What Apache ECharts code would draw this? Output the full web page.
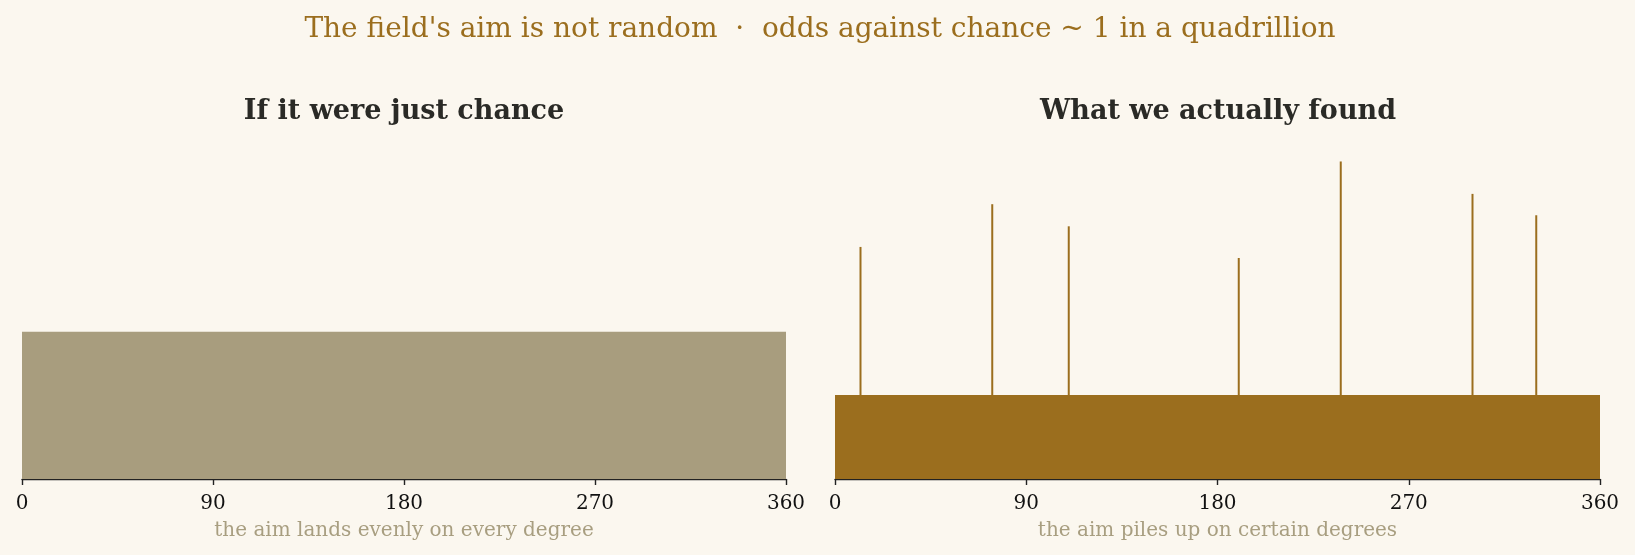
<!DOCTYPE html>
<html>
<head>
<meta charset="utf-8">
<script src="https://cdn.jsdelivr.net/npm/echarts@6/dist/echarts.min.js"></script>
<style>
  html, body { margin: 0; padding: 0; background: #fbf7ef; }
  #chart { width: 1635px; height: 555px; }
</style>
</head>
<body>
<div id="chart"></div>
<script>
// degree ticks on both panels
var degreeTicks = [0, 90, 180, 270, 360];
// left panel: uniform share per degree (relative units)
var chanceLevel = 1.0;
// right panel: background level and spikes at particular degrees
var foundBase = 0.57;
var spikeDegrees = [12, 74, 110, 190, 238, 300, 330];
var spikeHeights = [1.575, 1.865, 1.715, 1.50, 2.155, 1.935, 1.79];

var yMax = 2.26;
var serif = 'DejaVu Serif';

var chart = echarts.init(document.getElementById('chart'));

function xAxisFor(idx, label) {
    return {
        gridIndex: idx,
        type: 'value',
        min: degreeTicks[0],
        max: degreeTicks[degreeTicks.length - 1],
        interval: 90,
        name: label,
        nameLocation: 'middle',
        nameGap: 42,
        nameTextStyle: { color: '#a89e80', fontFamily: serif, fontSize: 20 },
        axisLine: { show: true, lineStyle: { color: '#222', width: 1.4 } },
        axisTick: { show: true, length: 6, lineStyle: { color: '#222', width: 1.4 } },
        axisLabel: { color: '#111', fontFamily: serif, fontSize: 20, margin: 15 },
        splitLine: { show: false }
    };
}

function yAxisFor(idx) {
    return {
        gridIndex: idx, type: 'value', min: 0, max: yMax, show: false,
        splitLine: { show: false }
    };
}

// one flat block spanning [x0, x1] up to value
function blockItem(params, api) {
    var p0 = api.coord([api.value(0), 0]);
    var p1 = api.coord([api.value(1), api.value(2)]);
    return {
        type: 'rect',
        shape: { x: p0[0], y: p1[1], width: p1[0] - p0[0], height: p0[1] - p1[1] },
        style: { fill: api.visual('color') }
    };
}

// thin spike rising from the base
function spikeItem(params, api) {
    var b = api.coord([api.value(0), foundBase]);
    var t = api.coord([api.value(0), api.value(1)]);
    return {
        type: 'rect',
        shape: { x: b[0] - 1, y: t[1], width: 2, height: b[1] - t[1] },
        style: { fill: api.visual('color') }
    };
}

var option = {
    backgroundColor: '#fbf7ef',
    animation: false,
    title: [{
        text: "The field's aim is not random  \u00b7  odds against chance ~ 1 in a quadrillion",
        left: 815, top: 11, textAlign: 'center',
        textStyle: { color: '#9b6e1e', fontFamily: serif, fontSize: 28, fontWeight: 'normal' }
    }, {
        text: 'If it were just chance',
        left: 399, top: 93, textAlign: 'center',
        textStyle: { color: '#2a2a26', fontFamily: serif, fontSize: 27, fontWeight: 'bold' }
    }, {
        text: 'What we actually found',
        left: 1213, top: 93, textAlign: 'center',
        textStyle: { color: '#2a2a26', fontFamily: serif, fontSize: 27, fontWeight: 'bold' }
    }],
    grid: [
        { left: 22, right: 849, top: 146, bottom: 76 },
        { left: 835, right: 35, top: 146, bottom: 76 }
    ],
    xAxis: [
        xAxisFor(0, 'the aim lands evenly on every degree'),
        xAxisFor(1, 'the aim piles up on certain degrees')
    ],
    yAxis: [yAxisFor(0), yAxisFor(1)],
    series: [{
        type: 'custom', xAxisIndex: 0, yAxisIndex: 0, z: 2,
        itemStyle: { color: '#a89d7e' },
        renderItem: blockItem,
        data: [[degreeTicks[0], degreeTicks[4], chanceLevel]]
    }, {
        type: 'custom', xAxisIndex: 1, yAxisIndex: 1, z: 2,
        itemStyle: { color: '#9b6e1e' },
        renderItem: blockItem,
        data: [[degreeTicks[0], degreeTicks[4], foundBase]]
    }, {
        type: 'custom', xAxisIndex: 1, yAxisIndex: 1, z: 3,
        itemStyle: { color: '#9b6e1e' },
        renderItem: spikeItem,
        data: spikeDegrees.map(function (d, i) { return [d, spikeHeights[i]]; })
    }]
};

chart.setOption(option);
</script>
</body>
</html>
